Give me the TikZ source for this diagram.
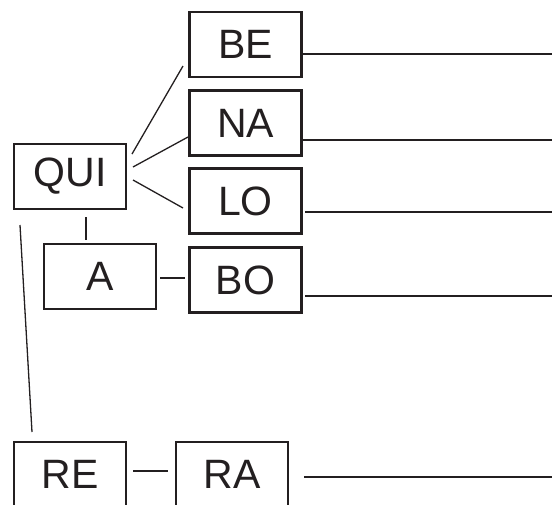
\documentclass[tikz,border=0pt]{standalone}
\usepackage{fontspec}
\setmainfont{Liberation Sans}
\usetikzlibrary{calc}
\definecolor{ink}{HTML}{231F20}
\begin{document}
\begin{tikzpicture}[x=1pt,y=-1pt,
  box/.style={draw=ink,line width=2.2pt,minimum width=112pt,minimum height=65pt,inner sep=0pt,outer sep=0pt,text=ink,font=\fontsize{41}{41}\selectfont},
  link/.style={draw=ink,line width=1.3pt}]
\useasboundingbox (0,0) rectangle (552,504);
\clip (0,0) rectangle (552,504);
\node[box] (BE) at (245.5,44.5) {BE};
\node[box] (NA) at (245.5,123) {NA};
\node[box] (LO) at (245.5,201) {LO};
\node[box] (BO) at (245.5,280) {BO};
\node[box] (QUI) at (70,176.5) {QUI};
\node[box] (A) at (100,276.5) {A};
\node[box] (RE) at (70,474.5) {RE};
\node[box] (RA) at (232,474.5) {RA};
\coordinate (eBE) at (552,54);
\coordinate (eNA) at (552,140);
\coordinate (eLO) at (552,212);
\coordinate (eBO) at (552,296);
\coordinate (eRA) at (552,477);
\draw[link] ($(QUI)+(62,-22.5)$) -- ($(BE)+(-62.5,21.5)$);
\draw[link] ($(QUI)+(63,-9.5)$) -- ($(NA)+(-57.5,14)$);
\draw[link] ($(QUI)+(63,3.5)$) -- ($(LO)+(-62.5,7)$);
\draw[link] ($(QUI)+(16,40.5)$) -- ($(A)+(-14,-36.5)$);
\draw[link] ($(A)+(60,1.5)$) -- ($(BO)+(-60.5,-2)$);
\draw[link] ($(QUI)+(-50,48.5)$) -- ($(RE)+(-38,-42.5)$);
\draw[link] ($(RE)+(63,-3.5)$) -- ($(RA)+(-64,-3.5)$);
\draw[link] ($(BE)+(56.5,9.5)$) -- (eBE);
\draw[link] ($(NA)+(56.5,17)$) -- (eNA);
\draw[link] ($(LO)+(59.5,11)$) -- (eLO);
\draw[link] ($(BO)+(59.5,16)$) -- (eBO);
\draw[link] ($(RA)+(72,2.5)$) -- (eRA);
\end{tikzpicture}
\end{document}
